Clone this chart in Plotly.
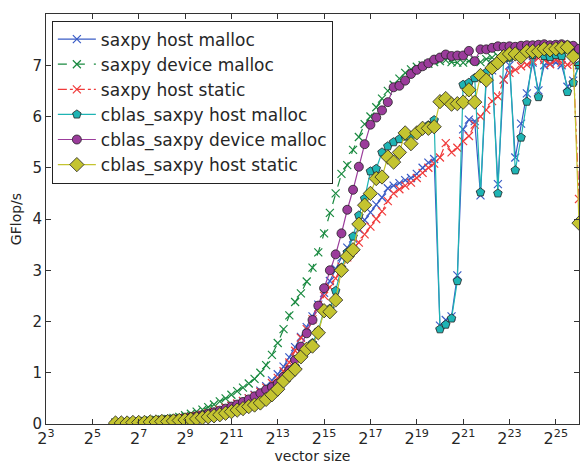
import math
import plotly.graph_objects as go

log2_size = [6.0, 6.25, 6.5, 6.75, 7.0, 7.25, 7.5, 7.75, 8.0, 8.25, 8.5, 8.75,
             9.0, 9.25, 9.5, 9.75, 10.0, 10.25, 10.5, 10.75, 11.0, 11.25, 11.5, 11.75,
             12.0, 12.25, 12.5, 12.75, 13.0, 13.25, 13.5, 13.75, 14.0, 14.25, 14.5, 14.75,
             15.0, 15.25, 15.5, 15.75, 16.0, 16.25, 16.5, 16.75, 17.0, 17.25, 17.5, 17.75,
             18.0, 18.25, 18.5, 18.75, 19.0, 19.25, 19.5, 19.75, 20.0, 20.25, 20.5, 20.75,
             21.0, 21.25, 21.5, 21.75, 22.0, 22.25, 22.5, 22.75, 23.0, 23.25, 23.5, 23.75,
             24.0, 24.25, 24.5, 24.75, 25.0, 25.25, 25.5, 25.75, 26.0]

saxpy_host_malloc = [0.02, 0.02, 0.03, 0.03, 0.04, 0.04, 0.05, 0.06, 0.07, 0.08, 0.09, 0.1,
                     0.12, 0.13, 0.15, 0.18, 0.2, 0.23, 0.27, 0.31, 0.35, 0.39, 0.44, 0.5,
                     0.57, 0.65, 0.74, 0.85, 0.97, 1.12, 1.3, 1.5, 1.7, 1.89, 2.1, 2.33,
                     2.56, 2.79, 3.03, 3.25, 3.44, 3.62, 3.8, 3.98, 4.13, 4.28, 4.42, 4.6,
                     4.65, 4.7, 4.76, 4.8, 4.88, 5.0, 5.1, 5.17, 1.92, 2.03, 2.1, 2.9,
                     5.75, 5.94, 5.91, 4.46, 6.75, 6.9, 4.68, 6.72, 7.0, 5.2, 5.86, 6.45,
                     7.05, 6.51, 7.0, 7.03, 7.05, 7.0, 6.58, 6.7, 7.0]

saxpy_device_malloc = [0.03, 0.03, 0.04, 0.04, 0.05, 0.06, 0.07, 0.08, 0.09, 0.1, 0.12, 0.14,
                       0.17, 0.2, 0.24, 0.28, 0.33, 0.38, 0.44, 0.5, 0.57, 0.64, 0.71, 0.79,
                       0.88, 1.0, 1.15, 1.35, 1.58, 1.85, 2.12, 2.38, 2.55, 2.78, 3.05, 3.35,
                       3.72, 4.12, 4.5, 4.88, 5.05, 5.35, 5.6, 5.85, 6.0, 6.18, 6.35, 6.5,
                       6.62, 6.74, 6.85, 6.92, 6.97, 7.0, 7.03, 7.06, 7.08, 7.1, 7.06, 7.05,
                       7.05, 7.08, 7.1, 7.06, 7.12, 7.15, 7.18, 7.15, 7.2, 7.18, 7.22, 7.24,
                       7.25, 7.26, 7.27, 7.28, 7.3, 7.3, 7.3, 7.28, 7.25]

saxpy_host_static = [0.02, 0.02, 0.03, 0.03, 0.04, 0.04, 0.05, 0.06, 0.07, 0.08, 0.09, 0.1,
                     0.12, 0.14, 0.16, 0.18, 0.21, 0.24, 0.28, 0.32, 0.36, 0.4, 0.45, 0.5,
                     0.56, 0.63, 0.71, 0.8, 0.9, 1.03, 1.2, 1.43, 1.68, 1.85, 2.04, 2.27,
                     2.5, 2.67, 2.84, 3.07, 3.25, 3.4, 3.54, 3.7, 3.85, 4.0, 4.15, 4.35,
                     4.5, 4.58, 4.65, 4.71, 4.8, 4.9, 5.0, 5.08, 5.2, 5.48, 5.3, 5.39,
                     5.52, 5.62, 5.84, 6.0, 6.13, 6.3, 6.39, 6.72, 6.85, 6.91, 6.98, 7.01,
                     7.08, 7.14, 7.1, 7.02, 7.1, 7.05, 7.01, 7.05, 4.39]

cblas_host_malloc = [0.02, 0.02, 0.03, 0.03, 0.03, 0.04, 0.04, 0.05, 0.05, 0.06, 0.07, 0.08,
                     0.09, 0.1, 0.11, 0.13, 0.15, 0.17, 0.2, 0.23, 0.26, 0.29, 0.32, 0.36,
                     0.4, 0.44, 0.5, 0.6, 0.72, 0.86, 0.99, 1.12, 1.33, 1.48, 1.58, 1.82,
                     2.22, 2.25, 2.6, 3.05, 3.35, 3.66, 4.07, 4.4, 4.93, 4.98, 5.3, 5.42,
                     5.5, 5.56, 5.61, 5.62, 5.7, 5.78, 5.83, 5.93, 1.85, 1.94, 2.06, 2.79,
                     6.62, 6.66, 6.75, 4.52, 6.86, 7.0, 4.5, 7.15, 7.15, 4.95, 5.59, 6.29,
                     7.2, 6.38, 7.18, 7.16, 7.2, 7.18, 6.48, 6.66, 7.0]

cblas_device_malloc = [0.02, 0.02, 0.03, 0.03, 0.04, 0.04, 0.05, 0.06, 0.07, 0.08, 0.09, 0.1,
                       0.11, 0.13, 0.15, 0.17, 0.2, 0.23, 0.26, 0.3, 0.34, 0.38, 0.43, 0.48,
                       0.54, 0.6, 0.67, 0.72, 0.79, 0.92, 1.05, 1.25, 1.51, 1.77, 2.03, 2.31,
                       2.65, 3.0, 3.31, 3.72, 4.18, 4.57, 5.02, 5.46, 5.84, 5.98, 6.12, 6.28,
                       6.57, 6.6, 6.7, 6.83, 6.91, 6.98, 7.04, 7.11, 7.15, 7.21, 7.18, 7.19,
                       7.19, 7.28, 7.08, 7.31, 7.31, 7.34, 7.37, 7.36, 7.37, 7.36, 7.38, 7.39,
                       7.39, 7.4, 7.41, 7.39, 7.4, 7.41, 7.39, 7.38, 7.32]

cblas_host_static = [0.02, 0.02, 0.02, 0.03, 0.03, 0.03, 0.04, 0.04, 0.05, 0.05, 0.06, 0.07,
                     0.08, 0.09, 0.1, 0.12, 0.14, 0.16, 0.18, 0.21, 0.24, 0.27, 0.3, 0.34,
                     0.37, 0.41, 0.48, 0.57, 0.68, 0.84, 0.96, 1.07, 1.31, 1.46, 1.52, 1.78,
                     2.21, 2.19, 2.42, 3.0, 3.27, 3.4, 3.9, 4.27, 4.5, 4.79, 4.82, 5.21,
                     5.11, 5.3, 5.68, 5.47, 5.68, 5.77, 5.77, 5.8, 6.29, 6.35, 6.24, 6.25,
                     6.28, 6.52, 6.28, 6.8, 6.71, 6.95, 7.05, 7.17, 7.22, 7.22, 7.16, 7.27,
                     7.27, 7.27, 7.32, 7.3, 7.32, 7.34, 7.35, 7.17, 3.92]

x_tick_exponents = [3, 5, 7, 9, 11, 13, 15, 17, 19, 21, 23, 25]
y_ticks = [0, 1, 2, 3, 4, 5, 6, 7, 8]

sizes = [2 ** e for e in log2_size]

series = [
    ("saxpy host malloc", saxpy_host_malloc, "#3a5cc6", "solid", "x-thin", 8, None),
    ("saxpy device malloc", saxpy_device_malloc, "#1a8a40", "dash", "x-thin", 8, None),
    ("saxpy host static", saxpy_host_static, "#f03a3a", "dashdot", "x-thin", 8, None),
    ("cblas_saxpy host malloc", cblas_host_malloc, "#1eb4b4", "solid", "pentagon", 9, "#222222"),
    ("cblas_saxpy device malloc", cblas_device_malloc, "#9b3c9b", "solid", "circle", 9, "#222222"),
    ("cblas_saxpy host static", cblas_host_static, "#c4c430", "solid", "diamond", 11, "#222222"),
]

fig = go.Figure()
for name, vals, color, dash, sym, size, edge in series:
    if edge is None:
        marker = dict(symbol=sym, size=size, color=color, line=dict(color=color, width=1.2))
    else:
        marker = dict(symbol=sym, size=size, color=color, line=dict(color=edge, width=0.8))
    fig.add_trace(go.Scatter(
        x=sizes, y=vals, name=name, mode="lines+markers",
        line=dict(color=color, width=1.2, dash=dash),
        marker=marker,
    ))

# the page body adds an 8px offset, so the figure is sized to fit the window
fig.update_layout(
    width=580, height=456,
    margin=dict(l=38, r=9, t=6, b=40, autoexpand=False),
    paper_bgcolor="white", plot_bgcolor="white",
    font=dict(family="DejaVu Sans", size=14, color="#262626"),
    showlegend=True,
    legend=dict(x=0.011, y=0.984, xanchor="left", yanchor="top",
                bordercolor="#222222", borderwidth=1, bgcolor="white",
                font=dict(size=17, color="#262626"), tracegroupgap=0,
                itemwidth=38),
    xaxis=dict(
        type="log",
        range=[3 * math.log10(2), 26 * math.log10(2)],
        tickvals=[2 ** k for k in x_tick_exponents],
        ticktext=["2<sup>%d</sup>" % k for k in x_tick_exponents],
        tickfont=dict(size=16),
        ticks="inside", ticklen=5, tickcolor="#333333",
        showline=True, linecolor="#333333", linewidth=1, mirror="ticks",
        showgrid=False, zeroline=False, automargin=False,
        title=dict(text="vector size", font=dict(size=14), standoff=2),
    ),
    yaxis=dict(
        range=[0, 8],
        tickvals=y_ticks,
        tickfont=dict(size=15),
        ticks="inside", ticklen=5, tickcolor="#333333",
        showline=True, linecolor="#333333", linewidth=1, mirror="ticks",
        showgrid=False, zeroline=False, automargin=False,
        title=dict(text="GFlop/s", font=dict(size=14), standoff=7),
    ),
)

fig.write_html("out.html")
